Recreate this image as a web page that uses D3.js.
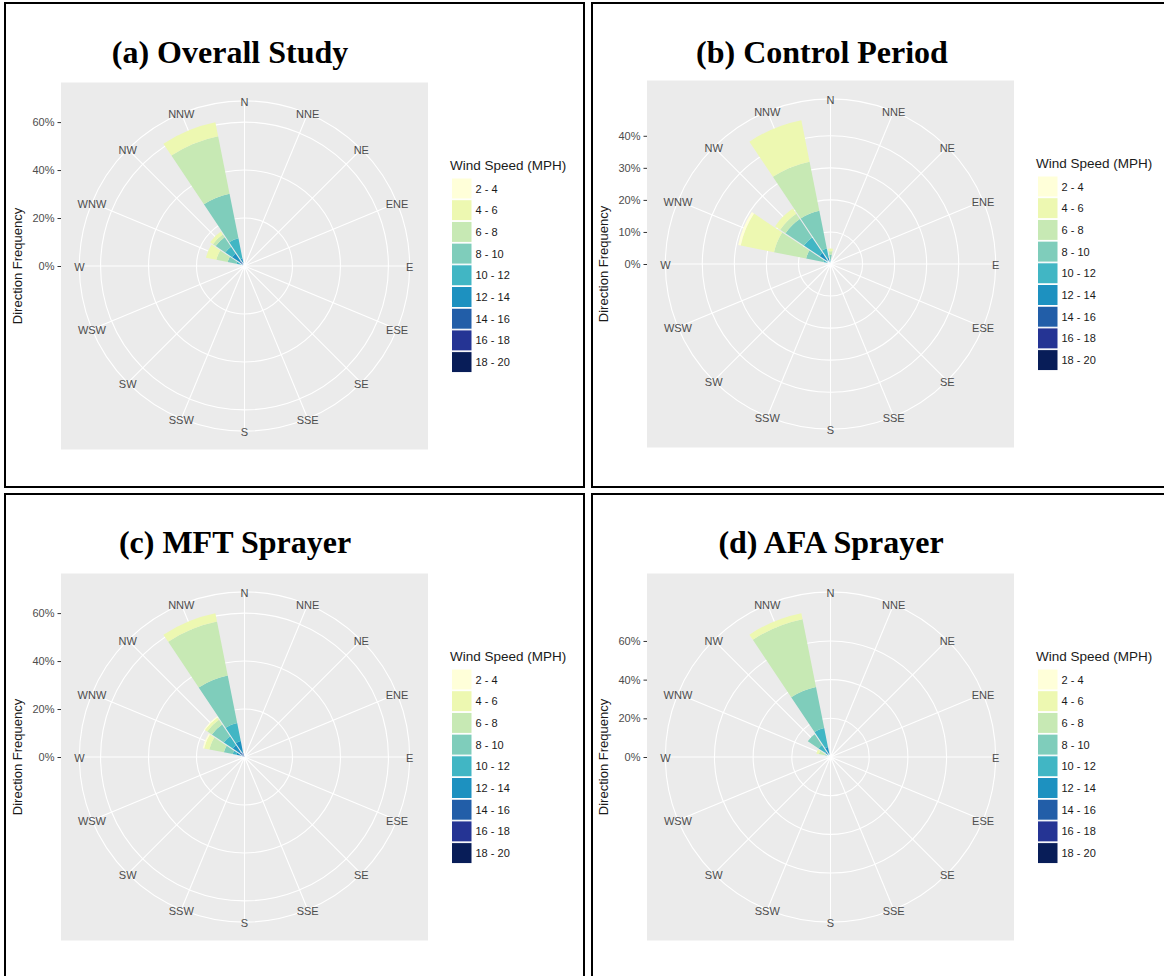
<!DOCTYPE html>
<html>
<head>
<meta charset="utf-8">
<script src="https://cdnjs.cloudflare.com/ajax/libs/d3/7.8.5/d3.min.js"></script>
<style>
  body { margin: 0; background: #fff; }
  .axis text { font-family: "Liberation Sans", Arial, sans-serif; font-size: 11px; fill: #4d4d4d; }
  .axis line { stroke: #333; }
  .axis path { display: none; }
</style>
</head>
<body>
<svg id="chart" width="1164" height="976"></svg>
<script>
var directions = ["N", "NNE", "NE", "ENE", "E", "ESE", "SE", "SSE", "S", "SSW", "SW", "WSW", "W", "WNW", "NW", "NNW"];
var speedBins = ["2 - 4", "4 - 6", "6 - 8", "8 - 10", "10 - 12", "12 - 14", "14 - 16", "16 - 18", "18 - 20"];
var speedColors = ["#ffffd9", "#edf8b1", "#c7e9b4", "#7fcdbb", "#41b6c4", "#1d91c0", "#225ea8", "#253494", "#081d58"];

var panelTitles = ["(a) Overall Study", "(b) Control Period", "(c) MFT Sprayer", "(d) AFA Sprayer"];

// direction frequency (%) : direction, then one value per speed bin (2-4 ... 18-20)
var overallStudy = [
  ["NNW", 0, 6.0, 24.4, 19.0, 8.4, 2.4, 1.0, 0, 0],
  ["NW", 0, 1.4, 1.4, 4.8, 3.5, 3.8, 2.0, 0.5, 0],
  ["WNW", 0, 4.4, 4.8, 3.7, 2.0, 1.0, 0.5, 0, 0]
];
var controlPeriod = [
  ["N", 0, 0.8, 1.0, 1.5, 1.2, 0.3, 0, 0, 0],
  ["NNW", 0, 13.2, 15.6, 12.0, 3.0, 1.5, 0.5, 0, 0],
  ["NW", 0, 1.9, 2.0, 6.9, 5.9, 3.2, 1.0, 0, 0],
  ["WNW", 0.8, 10.6, 10.2, 5.5, 1.5, 0.8, 0, 0, 0]
];
var mftSprayer = [
  ["NNW", 0, 3.6, 22.9, 20.2, 7.7, 4.8, 2.0, 0, 0],
  ["NW", 0.4, 1.2, 2.3, 6.0, 4.5, 3.5, 2.5, 0, 0],
  ["WNW", 0.6, 2.2, 6.2, 3.7, 1.6, 2.0, 1.5, 0, 0]
];
var afaSprayer = [
  ["NNW", 0, 3.2, 35.7, 21.7, 9.9, 4.4, 1.0, 0, 0],
  ["NW", 0, 0, 0, 6.7, 4.1, 2.5, 1.0, 0, 0],
  ["WNW", 0, 1.3, 3.2, 1.5, 1.0, 0.5, 0, 0, 0]
];

var overallTicks = [0, 20, 40, 60];
var controlTicks = [0, 10, 20, 30, 40];
var mftTicks = [0, 20, 40, 60];
var afaTicks = [0, 20, 40, 60];

var svg = d3.select("#chart");
var sansFont = "'Liberation Sans', Arial, sans-serif";

var color = d3.scaleOrdinal().domain(speedBins).range(speedColors);

// where each of the four figures sits on the page
var layout = [
  {rows: overallStudy, ticks: overallTicks, title: panelTitles[0], box: [5, 3], titleX: 230, titleY: 63, dx: 0, dy: 0},
  {rows: controlPeriod, ticks: controlTicks, title: panelTitles[1], box: [592, 3], titleX: 822, titleY: 63, dx: 586, dy: -2},
  {rows: mftSprayer, ticks: mftTicks, title: panelTitles[2], box: [5, 494], titleX: 235, titleY: 553, dx: 0, dy: 491},
  {rows: afaSprayer, ticks: afaTicks, title: panelTitles[3], box: [592, 494], titleX: 831, titleY: 553, dx: 586, dy: 491}
];

var size = 367, panelLeft = 61, panelTop = 82.5;
var cx = panelLeft + size / 2, cy = panelTop + size / 2;

layout.forEach(function(p) {
  // frame + title
  svg.append("rect")
      .attr("x", p.box[0])
      .attr("y", p.box[1])
      .attr("width", 579)
      .attr("height", 484)
      .attr("fill", "none")
      .attr("stroke", "#000")
      .attr("stroke-width", 2);

  svg.append("text")
      .attr("x", p.titleX)
      .attr("y", p.titleY)
      .attr("text-anchor", "middle")
      .attr("font-family", "'Liberation Serif', 'Times New Roman', serif")
      .attr("font-weight", "bold")
      .attr("font-size", "32px")
      .text(p.title);

  drawRose(svg.append("g").attr("transform", "translate(" + p.dx + "," + p.dy + ")"), p.rows, p.ticks);
});

function drawRose(g, rows, ticks) {
  var data = rows.map(function(row) {
    var d = {dir: row[0]};
    speedBins.forEach(function(b, i) { d[b] = row[i + 1]; });
    return d;
  });

  // highest speed at the centre, lowest on the outside
  var series = d3.stack().keys(speedBins.slice().reverse())(data);
  var maxTotal = d3.max(data, function(d) { return d3.sum(speedBins, function(b) { return d[b]; }); });

  var theta = d3.scaleBand()
      .domain(directions)
      .range([-Math.PI / 16, 2 * Math.PI - Math.PI / 16]);
  var r = d3.scaleLinear().domain([0, maxTotal]).range([0, 0.4 * size]);
  var outer = 0.45 * size;

  g.append("rect")
      .attr("x", panelLeft)
      .attr("y", panelTop)
      .attr("width", size)
      .attr("height", size)
      .attr("fill", "#ebebeb");

  var plot = g.append("g").attr("transform", "translate(" + cx + "," + cy + ")");

  // grid circles at the breaks plus the outer ring
  var rings = ticks.filter(function(t) { return t > 0; }).map(r).concat([outer]);
  plot.selectAll(".ring")
    .data(rings)
    .enter().append("circle")
      .attr("r", function(d) { return d; })
      .attr("fill", "none")
      .attr("stroke", "#fff")
      .attr("stroke-width", 1.1);

  plot.selectAll(".spoke")
    .data(directions)
    .enter().append("line")
      .attr("x1", 0)
      .attr("y1", 0)
      .attr("x2", function(d) { return outer * Math.sin(theta(d) + theta.bandwidth() / 2); })
      .attr("y2", function(d) { return -outer * Math.cos(theta(d) + theta.bandwidth() / 2); })
      .attr("stroke", "#fff")
      .attr("stroke-width", 1.1);

  var arc = d3.arc()
      .innerRadius(function(d) { return r(d[0]); })
      .outerRadius(function(d) { return r(d[1]); })
      .startAngle(function(d) { return theta(d.data.dir); })
      .endAngle(function(d) { return theta(d.data.dir) + theta.bandwidth(); })
      .padRadius(100)
      .padAngle(0.011);

  plot.selectAll(".layer")
    .data(series)
    .enter().append("g")
      .attr("fill", function(s) { return color(s.key); })
    .selectAll("path")
    .data(function(s) { return s.filter(function(d) { return d[1] - d[0] > 0; }); })
    .enter().append("path")
      .attr("d", arc);

  plot.selectAll(".dirlab")
    .data(directions)
    .enter().append("text")
      .attr("x", function(d) { return outer * Math.sin(theta(d) + theta.bandwidth() / 2); })
      .attr("y", function(d) { return -outer * Math.cos(theta(d) + theta.bandwidth() / 2) + 1; })
      .attr("text-anchor", "middle")
      .attr("dominant-baseline", "central")
      .attr("font-family", sansFont)
      .attr("font-size", "11px")
      .attr("fill", "#4d4d4d")
      .text(function(d) { return d; });

  // radial axis on the left edge of the panel
  var yAxisScale = d3.scaleLinear().domain(r.domain()).range([cy, cy - 0.4 * size]);
  g.append("g")
      .attr("class", "axis")
      .attr("transform", "translate(" + panelLeft + ",0)")
      .call(d3.axisLeft(yAxisScale).tickValues(ticks).tickSize(3.5).tickPadding(3)
        .tickFormat(function(d) { return d + "%"; }));

  g.append("text")
      .attr("transform", "translate(22," + cy + ") rotate(-90)")
      .attr("text-anchor", "middle")
      .attr("font-family", sansFont)
      .attr("font-size", "13px")
      .attr("fill", "#1a1a1a")
      .text("Direction Frequency");

  // legend
  var legend = g.append("g").attr("transform", "translate(450,0)");
  legend.append("text")
      .attr("x", 0)
      .attr("y", 170)
      .attr("font-family", sansFont)
      .attr("font-size", "13.5px")
      .attr("fill", "#1a1a1a")
      .text("Wind Speed (MPH)");

  var keys = legend.selectAll(".key")
    .data(speedBins)
    .enter().append("g")
      .attr("transform", function(d, i) { return "translate(1.5," + (178 + i * 21.7) + ")"; });
  keys.append("rect")
      .attr("width", 20.5)
      .attr("height", 21)
      .attr("fill", function(d) { return color(d); })
      .attr("stroke", "#fff")
      .attr("stroke-width", 1);
  keys.append("text")
      .attr("x", 24)
      .attr("y", 10.5)
      .attr("dominant-baseline", "central")
      .attr("font-family", sansFont)
      .attr("font-size", "11px")
      .attr("fill", "#1a1a1a")
      .text(function(d) { return d; });
}
</script>
</body>
</html>
